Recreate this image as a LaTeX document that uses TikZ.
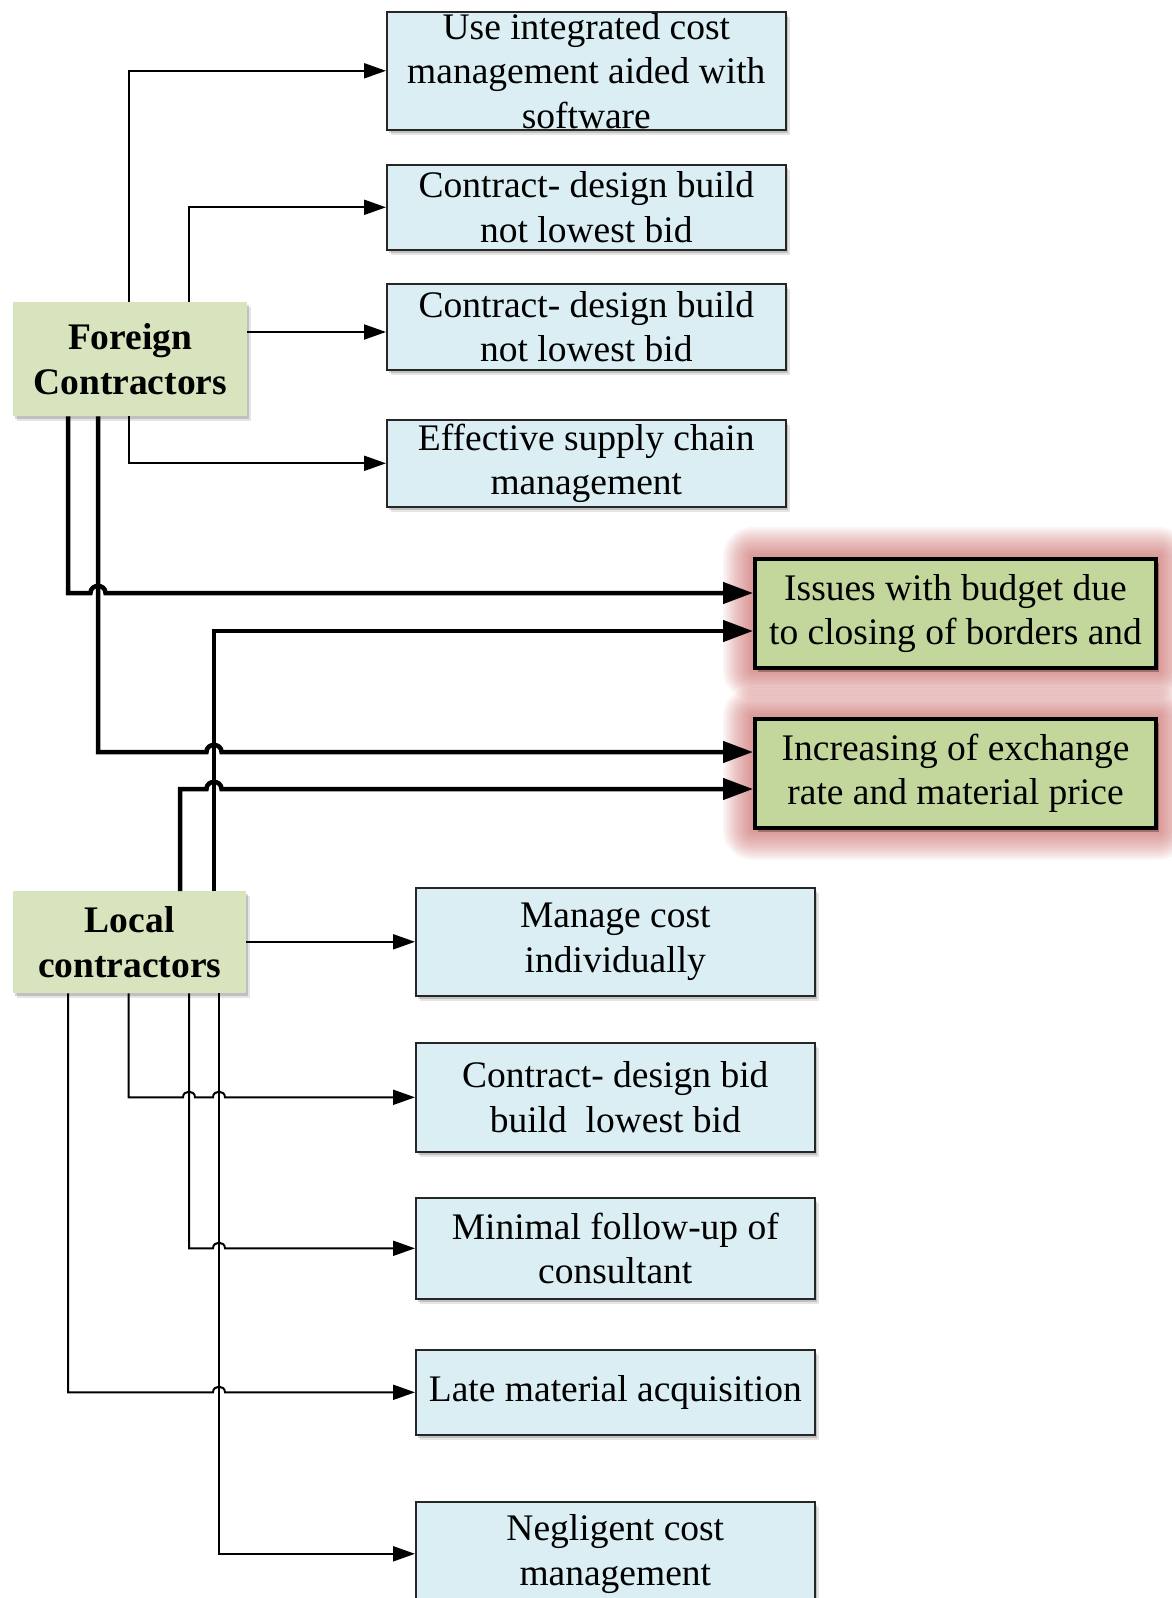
\documentclass[tikz,border=0pt]{standalone}
\usepackage{fontspec}
\setmainfont{Liberation Serif}
\usetikzlibrary{arrows.meta,shadows,backgrounds,calc}
\definecolor{bfill}{HTML}{DAEEF3}
\definecolor{gfill}{HTML}{D7E4BD}
\definecolor{ofill}{HTML}{C3D69B}
\definecolor{glowc}{HTML}{C0504D}
\newcommand\hopover[3]{-- ({#1-#3},#2) .. controls ({#1-#3},{#2-1.25*#3}) and ({#1+#3},{#2-1.25*#3}) .. ({#1+#3},#2)}
\tikzset{
  softshadow/.style={general shadow={shadow xshift=2pt,shadow yshift=-3pt,fill=black,opacity=0.16},
                     general shadow={shadow xshift=4pt,shadow yshift=-5pt,fill=black,opacity=0.10}},
  bluebox/.style={draw=black!85, line width=1.6pt, fill=bfill, anchor=north west, inner sep=0pt,
                  align=center, minimum width=399pt, font=\fontsize{37.5}{44.5}\selectfont, softshadow},
  greenbox/.style={fill=gfill, anchor=north west, inner sep=0pt, align=center,
                   font=\fontsize{37.5}{45}\selectfont\bfseries, softshadow},
  keybox/.style={draw=black, line width=4pt, fill=ofill, anchor=north west, inner sep=0pt, align=center,
                 minimum width=401pt, minimum height=109pt, font=\fontsize{37.5}{44.5}\selectfont,
                 general shadow={shadow xshift=3pt,shadow yshift=-4pt,fill=black!70!glowc,opacity=0.35}},
  thinarr/.style={line width=2pt, -{Triangle[length=22pt,width=15pt]}},
  thickarr/.style={line width=4.5pt, -{Triangle[length=30pt,width=21pt]}},
}
\begin{document}
\begin{tikzpicture}[x=1pt,y=-1pt]
\useasboundingbox (0,0) rectangle (1172,1598);
% nodes
\node[greenbox, minimum width=234pt, minimum height=114pt] (fc) at (13,302) {Foreign\\Contractors};
\node[greenbox, minimum width=233pt, minimum height=102pt] (lc) at (13,891) {Local\\contractors};
\node[bluebox, minimum height=118pt] (b1) at (386,11) {Use integrated cost\\management aided with\\software};
\node[bluebox, minimum height=85pt] (b2) at (386,164) {Contract- design build\\not lowest bid};
\node[bluebox, minimum height=86pt] (b3) at (386,283) {Contract- design build\\not lowest bid};
\node[bluebox, minimum height=87pt] (b4) at (386,419) {Effective supply chain\\management};
\node[keybox] (b5) at (753,557) {Issues with budget due\\to closing of borders and};
\node[keybox] (b6) at (753,717) {Increasing of exchange\\rate and material price};
\node[bluebox, minimum height=108pt] (b7) at (415,887) {Manage cost\\individually};
\node[bluebox, minimum height=109pt] (b8) at (415,1042) {Contract- design bid\\build~ lowest bid};
\node[bluebox, minimum height=101pt] (b9) at (415,1197) {Minimal follow-up of\\consultant};
\node[bluebox, minimum height=85pt] (b10) at (415,1349) {Late material acquisition};
\node[bluebox, minimum height=104pt] (b11) at (415,1501) {Negligent cost\\management};
% glow
\begin{scope}[on background layer]
\foreach \r in {2,4,...,30} {
  \fill[glowc, opacity=0.055, rounded corners=\r pt] ($(b5.north west)+(-\r,-\r)$) rectangle ($(b5.south east)+(\r,\r)$);
  \fill[glowc, opacity=0.055, rounded corners=\r pt] ($(b6.north west)+(-\r,-\r)$) rectangle ($(b6.south east)+(\r,\r)$);
}
\end{scope}
% helper coordinates
\coordinate (xa) at (68,0);
\coordinate (xb) at (98,0);
\coordinate (xc) at (128.5,0);
\coordinate (xd) at (189,0);
\coordinate (xe) at (180,0);
\coordinate (xf) at (214,0);
\coordinate (xg) at (219,0);
\coordinate (y3) at (0,332);
\coordinate (yt1) at (0,593);
\coordinate (yt3) at (0,631);
\coordinate (yt2) at (0,752);
\coordinate (yt4) at (0,789);
\coordinate (y8) at (0,1097.3);
\coordinate (y9) at (0,1248.3);
\coordinate (y10) at (0,1392.3);
% foreign contractors connectors
\draw[thinarr] (fc.north -| xc) |- (b1.west);
\draw[thinarr] (fc.north -| xd) |- (b2.west);
\draw[thinarr] (fc.east |- y3) -- (b3.west |- y3);
\draw[thinarr] (fc.south -| xc) |- (b4.west);
\draw[thickarr] (fc.south -| xa) -- (68,593) \hopover{98}{593}{7.5} -- (b5.west |- yt1);
\draw[thickarr] (fc.south -| xb) -- (98,752) \hopover{214}{752}{7.5} -- (b6.west |- yt2);
% local contractors connectors
\draw[thickarr] (lc.north -| xf) |- (b5.west |- yt3);
\draw[thickarr] (lc.north -| xe) -- (180,789) \hopover{214}{789}{7.5} -- (b6.west |- yt4);
\draw[thinarr] (lc.east |- b7.west) -- (b7.west);
\draw[thinarr] (lc.south -| xc) -- (128.5,1097.3) \hopover{189}{1097.3}{6} \hopover{219}{1097.3}{6} -- (b8.west |- y8);
\draw[thinarr] (lc.south -| xd) -- (189,1248.3) \hopover{219}{1248.3}{6} -- (b9.west |- y9);
\draw[thinarr] (lc.south -| xa) -- (68,1392.3) \hopover{219}{1392.3}{6} -- (b10.west |- y10);
\draw[thinarr] (lc.south -| xg) |- (b11.west);
\end{tikzpicture}
\end{document}
